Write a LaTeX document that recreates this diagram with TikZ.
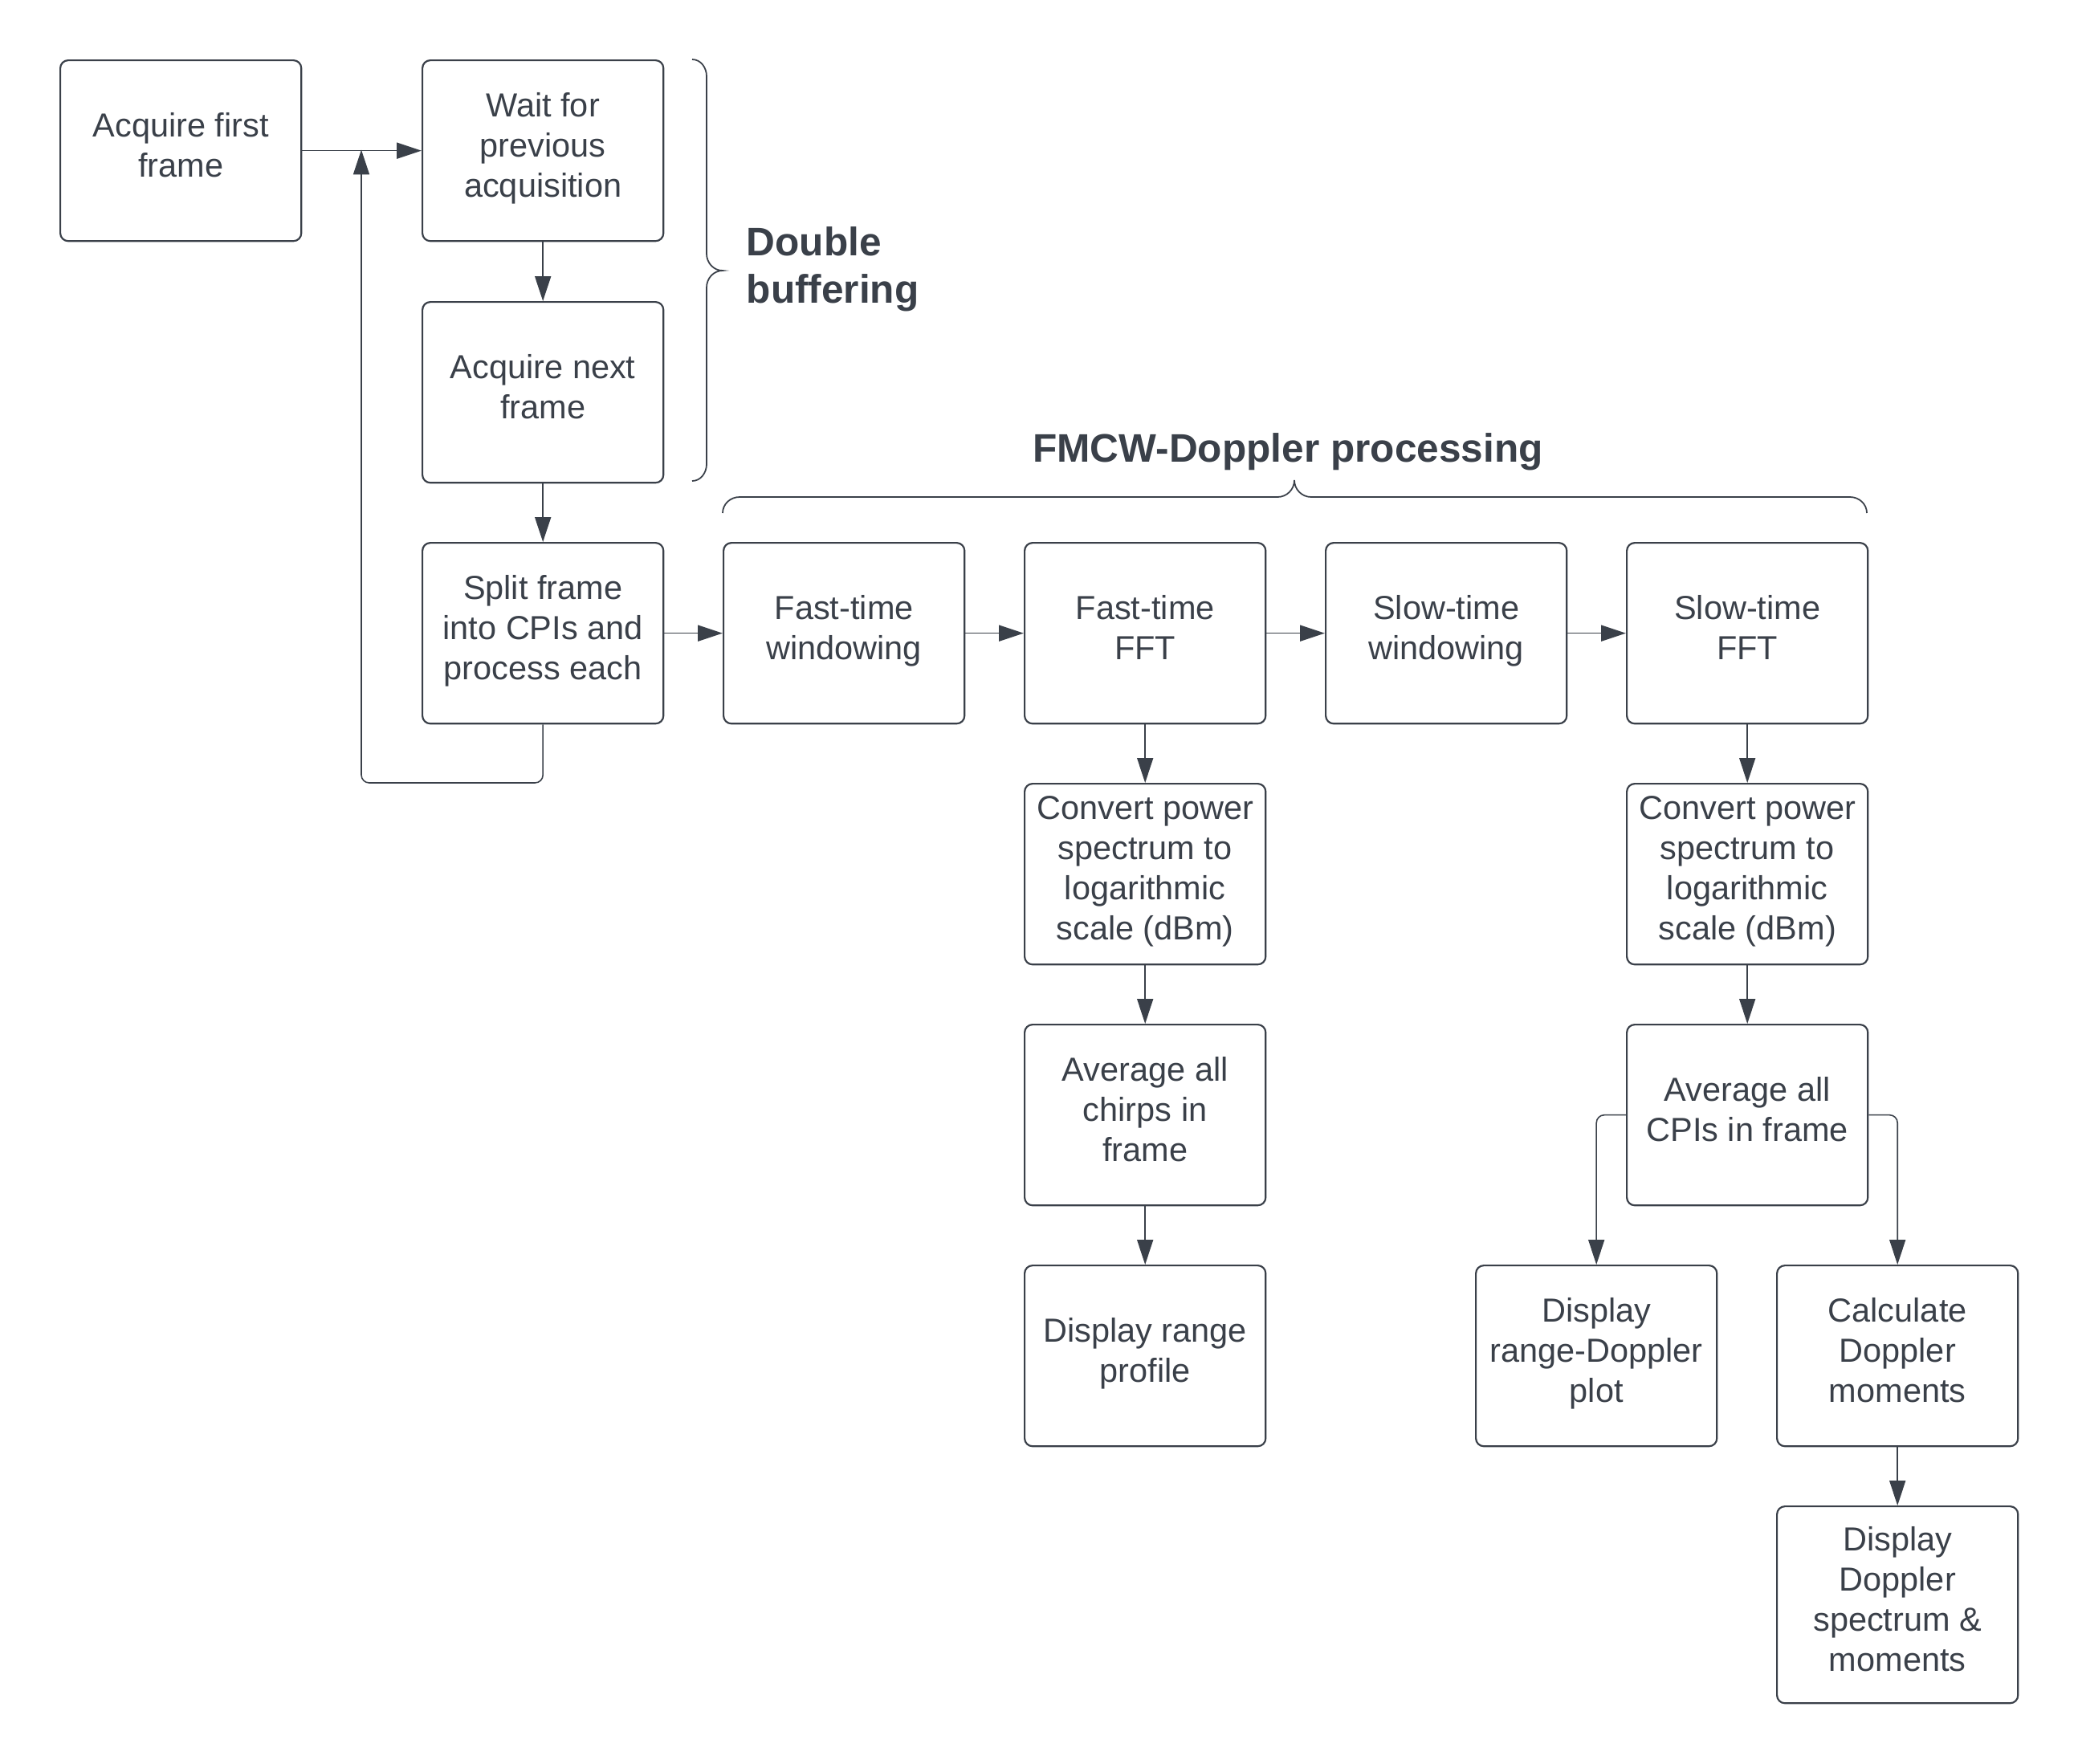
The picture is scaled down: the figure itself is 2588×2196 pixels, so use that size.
\documentclass[tikz,border=0pt]{standalone}
\usepackage{fontspec}
\setmainfont{Liberation Sans}
\usetikzlibrary{arrows.meta}
\definecolor{ink}{HTML}{3A4049}
% fixed line box so every block is centred the same way
\newcommand\linebox{\rule[-4.3pt]{0pt}{14.2pt}}
\begin{document}
\begin{tikzpicture}[x=0.01cm,y=-0.01cm,
  box/.style={draw=ink, line width=0.62pt, rounded corners=2.8pt,
    minimum width=3cm, minimum height=2.25cm, anchor=north west,
    align=center, text=ink, inner sep=0pt,
    font=\fontsize{11.8}{14.2}\selectfont,
    execute at begin node=\linebox, execute at end node=\linebox},
  flow/.style={draw=ink, line width=0.45pt, rounded corners=2.8pt,
    -{Triangle[length=8.8pt,width=5.7pt]}},
  title/.style={text=ink, inner sep=0pt,
    font=\bfseries\fontsize{14.1}{16.9}\selectfont},
  brace/.style={draw=ink, line width=0.5pt}]
\useasboundingbox (0,0) rectangle (2588,2196);

% acquisition loop
\node[box] (first) at (74,74)   {Acquire first\\frame};
\node[box] (wait)  at (525,74)  {Wait for\\previous\\acquisition};
\node[box] (next)  at (525,375) {Acquire next\\frame};
\node[box] (split) at (525,675) {Split frame\\into CPIs and\\process each};

% processing chain
\node[box] (fwin) at (900,675)  {Fast-time\\windowing};
\node[box] (ffft) at (1275,675) {Fast-time\\FFT};
\node[box] (swin) at (1650,675) {Slow-time\\windowing};
\node[box] (sfft) at (2025,675) {Slow-time\\FFT};

% range branch
\node[box] (conv1) at (1275,975)  {Convert power\\spectrum to\\logarithmic\\scale (dBm)};
\node[box] (avg1)  at (1275,1275) {Average all\\chirps in\\frame};
\node[box] (range) at (1275,1575) {Display range\\profile};

% Doppler branch
\node[box] (conv2) at (2025,975)  {Convert power\\spectrum to\\logarithmic\\scale (dBm)};
\node[box] (avg2)  at (2025,1275) {Average all\\CPIs in frame};
\node[box] (rd)    at (1837,1575) {Display\\range-Doppler\\plot};
\node[box] (mom)   at (2212,1575) {Calculate\\Doppler\\moments};
\node[box, minimum height=2.45cm] (spec) at (2212,1875) {Display\\Doppler\\spectrum \&\\moments};

% titles
\node[title, anchor=center] (fmcw) at (1604,563) {FMCW-Doppler processing};
\node[title, anchor=west, align=left] (dbuf) at (929,335) {Double\\buffering};

% connectors
\coordinate (loopbottom) at (450,975);
\coordinate (looptop) at (450,186.5);
\draw[flow] (first.east) -- (wait.west);
\draw[flow] (split.south) |- (loopbottom) -- (looptop);
\draw[flow] (wait.south) -- (next.north);
\draw[flow] (next.south) -- (split.north);
\draw[flow] (split.east) -- (fwin.west);
\draw[flow] (fwin.east) -- (ffft.west);
\draw[flow] (ffft.east) -- (swin.west);
\draw[flow] (swin.east) -- (sfft.west);
\draw[flow] (ffft.south) -- (conv1.north);
\draw[flow] (conv1.south) -- (avg1.north);
\draw[flow] (avg1.south) -- (range.north);
\draw[flow] (sfft.south) -- (conv2.north);
\draw[flow] (conv2.south) -- (avg2.north);
\draw[flow] (avg2.west) -| (rd.north);
\draw[flow] (avg2.east) -| (mom.north);
\draw[flow] (mom.south) -- (spec.north);

% braces
\draw[brace] (862,74) to[out=0,in=90] (880,95) -- (880,316)
  to[out=270,in=180] (900,337) to[out=180,in=90] (880,358)
  -- (880,578) to[out=270,in=0] (862,599);
\draw[brace] (900,639) to[out=90,in=180] (921,619) -- (1591,619)
  to[out=0,in=270] (1612,598) to[out=270,in=180] (1633,619)
  -- (2304,619) to[out=0,in=90] (2325,639);
\end{tikzpicture}
\end{document}
